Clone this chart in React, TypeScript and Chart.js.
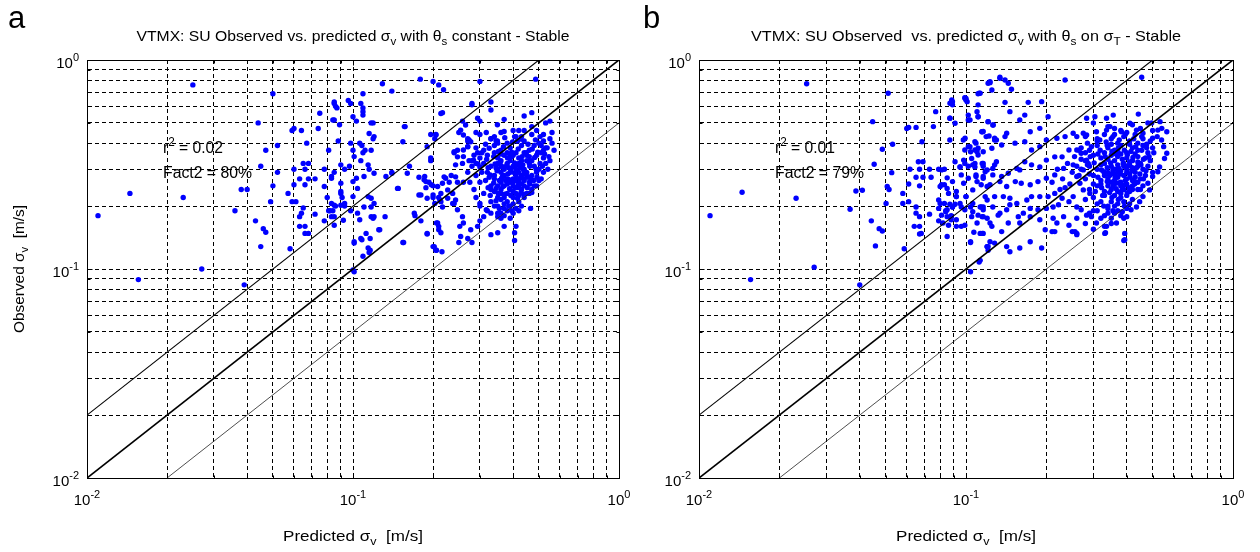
import React, { useEffect, useRef } from 'react';
import { Chart, registerables } from 'chart.js';

Chart.register(...registerables);

// ---------- axes / reference lines ----------
const gridValues = [0.01, 0.02, 0.03, 0.04, 0.05, 0.06, 0.07, 0.08, 0.09, 0.1, 0.2, 0.3, 0.4, 0.5, 0.6, 0.7, 0.8, 0.9, 1];
const majorValues = [0.01, 0.1, 1];
const majorExponents = ['-2', '-1', '0'];
const oneToOneLine: [number, number][] = [[0.01, 0.01], [1, 1]];
const factor2Upper: [number, number][] = [[0.01, 0.02], [0.5, 1]];
const factor2Lower: [number, number][] = [[0.02, 0.01], [1, 0.5]];

// ---------- panel a : predicted vs observed sigma_v ----------
const pointsA_left: [number, number][] = [
  [0.011, 0.18], [0.0145, 0.23], [0.0156, 0.089], [0.023, 0.22], [0.025, 0.76], [0.027, 0.10], [0.036, 0.19], [0.038, 0.24], [0.040, 0.24], [0.039, 0.084],
  [0.043, 0.17], [0.044, 0.50], [0.045, 0.31], [0.045, 0.128], [0.046, 0.156], [0.047, 0.15], [0.047, 0.37], [0.049, 0.21], [0.050, 0.69], [0.050, 0.25],
  [0.052, 0.39], [0.052, 0.29], [0.057, 0.23], [0.058, 0.125], [0.059, 0.46], [0.059, 0.21], [0.060, 0.47], [0.060, 0.30], [0.060, 0.253], [0.061, 0.21],
  [0.063, 0.27], [0.063, 0.178], [0.063, 0.16], [0.064, 0.46], [0.064, 0.185], [0.065, 0.32], [0.065, 0.196], [0.066, 0.30], [0.066, 0.253], [0.066, 0.16],
  [0.066, 0.148], [0.067, 0.40], [0.068, 0.32], [0.068, 0.27], [0.068, 0.148], [0.072, 0.27], [0.072, 0.183], [0.074, 0.47], [0.075, 0.556], [0.078, 0.30],
  [0.078, 0.248], [0.078, 0.17], [0.080, 0.22], [0.081, 0.37], [0.081, 0.19], [0.083, 0.277], [0.083, 0.206], [0.083, 0.178], [0.084, 0.19], [0.085, 0.63],
  [0.085, 0.517], [0.085, 0.202], [0.085, 0.162], [0.086, 0.60], [0.088, 0.41], [0.089, 0.49], [0.090, 0.202], [0.090, 0.235], [0.091, 0.22], [0.092, 0.171],
  [0.093, 0.206],
];
const pointsA_near01: [number, number][] = [
  [0.085, 0.62], [0.087, 0.59], [0.096, 0.64], [0.098, 0.62], [0.107, 0.62], [0.109, 0.59], [0.109, 0.545], [0.10, 0.535], [0.103, 0.51], [0.084, 0.516],
  [0.117, 0.50], [0.115, 0.445], [0.119, 0.42], [0.106, 0.40], [0.098, 0.40], [0.10, 0.37], [0.101, 0.345], [0.109, 0.36], [0.107, 0.33], [0.097, 0.31],
  [0.090, 0.315], [0.085, 0.29], [0.093, 0.30], [0.114, 0.315], [0.115, 0.30], [0.11, 0.277], [0.103, 0.272], [0.10, 0.262], [0.083, 0.272], [0.09, 0.257],
  [0.104, 0.243], [0.09, 0.23], [0.10, 0.222], [0.114, 0.222], [0.117, 0.218], [0.086, 0.20], [0.093, 0.20], [0.098, 0.19], [0.11, 0.198], [0.117, 0.198],
  [0.082, 0.19], [0.085, 0.178], [0.104, 0.185], [0.106, 0.172], [0.12, 0.178], [0.132, 0.178], [0.126, 0.154], [0.112, 0.148], [0.107, 0.14], [0.101, 0.135],
  [0.114, 0.126], [0.115, 0.12], [0.10, 0.099], [0.147, 0.243], [0.14, 0.287], [0.133, 0.277], [0.12, 0.287], [0.109, 0.69], [0.109, 0.566], [0.108, 0.39],
  [0.111, 0.37], [0.12, 0.206], [0.117, 0.178], [0.116, 0.123], [0.101, 0.097], [0.129, 0.77], [0.14, 0.71], [0.156, 0.48], [0.154, 0.406], [0.14, 0.29],
  [0.148, 0.243], [0.154, 0.134], [0.125, 0.154], [0.119, 0.175], [0.116, 0.14], [0.109, 0.115], [0.101, 0.133], [0.108, 0.138], [0.119, 0.50], [0.12, 0.43],
  [0.117, 0.37],
];
const pointsA_mid: [number, number][] = [
  [0.179, 0.81], [0.20, 0.79], [0.21, 0.76], [0.219, 0.72], [0.30, 0.79], [0.486, 0.81], [0.217, 0.56], [0.157, 0.48], [0.205, 0.438], [0.203, 0.42],
  [0.19, 0.385], [0.196, 0.34], [0.163, 0.31], [0.16, 0.287], [0.171, 0.18], [0.19, 0.148], [0.202, 0.128], [0.206, 0.123], [0.216, 0.121], [0.214, 0.149],
  [0.155, 0.134], [0.208, 0.166], [0.28, 0.62], [0.33, 0.63], [0.33, 0.576], [0.28, 0.61], [0.214, 0.555], [0.258, 0.51], [0.294, 0.526], [0.30, 0.51],
  [0.349, 0.49], [0.37, 0.52], [0.44, 0.54], [0.47, 0.56], [0.53, 0.50], [0.55, 0.51], [0.56, 0.45], [0.25, 0.45], [0.27, 0.42], [0.29, 0.45],
  [0.196, 0.44], [0.205, 0.44], [0.196, 0.33], [0.177, 0.275], [0.185, 0.267], [0.193, 0.26], [0.20, 0.25], [0.188, 0.245], [0.177, 0.226], [0.20, 0.22],
  [0.21, 0.22], [0.22, 0.276], [0.23, 0.26], [0.234, 0.28], [0.243, 0.276], [0.247, 0.26], [0.26, 0.26], [0.24, 0.36], [0.247, 0.37], [0.26, 0.345],
  [0.27, 0.385], [0.273, 0.33], [0.29, 0.32], [0.294, 0.36], [0.27, 0.41], [0.317, 0.45], [0.33, 0.42], [0.34, 0.43], [0.349, 0.41], [0.37, 0.455],
  [0.40, 0.46], [0.405, 0.43], [0.415, 0.41], [0.43, 0.43], [0.44, 0.46], [0.47, 0.48], [0.49, 0.46], [0.505, 0.43], [0.52, 0.41], [0.537, 0.38],
  [0.545, 0.345], [0.52, 0.37], [0.19, 0.147], [0.20, 0.128], [0.205, 0.123], [0.21, 0.154], [0.25, 0.134], [0.28, 0.134], [0.33, 0.146], [0.35, 0.149],
  [0.405, 0.149], [0.405, 0.137], [0.465, 0.195], [0.41, 0.16], [0.37, 0.16], [0.17, 0.185], [0.18, 0.17], [0.206, 0.166], [0.21, 0.16], [0.252, 0.16],
  [0.254, 0.143], [0.27, 0.14], [0.277, 0.154], [0.294, 0.16], [0.26, 0.166], [0.258, 0.178], [0.247, 0.192], [0.24, 0.206], [0.227, 0.218], [0.214, 0.21],
  [0.30, 0.17], [0.31, 0.178], [0.317, 0.192], [0.33, 0.185], [0.35, 0.178], [0.36, 0.185], [0.30, 0.206], [0.186, 0.277], [0.188, 0.262], [0.197, 0.253],
  [0.208, 0.248], [0.217, 0.257], [0.223, 0.272], [0.227, 0.239], [0.214, 0.23], [0.237, 0.23], [0.243, 0.214], [0.237, 0.206], [0.18, 0.226], [0.19, 0.218],
  [0.20, 0.226], [0.203, 0.206], [0.212, 0.214], [0.217, 0.198], [0.24, 0.364], [0.247, 0.344], [0.243, 0.315], [0.258, 0.32], [0.26, 0.371], [0.27, 0.385],
  [0.277, 0.406], [0.284, 0.332], [0.30, 0.308], [0.254, 0.462], [0.26, 0.438], [0.273, 0.414], [0.265, 0.489],
];
const pointsA_core: [number, number][] = [
  [0.30, 0.44], [0.33, 0.42], [0.36, 0.45], [0.38, 0.40], [0.41, 0.43], [0.44, 0.41], [0.47, 0.44], [0.50, 0.40], [0.35, 0.40], [0.42, 0.46], [0.52, 0.44], [0.55, 0.42],
  [0.29, 0.38], [0.31, 0.37], [0.34, 0.39], [0.36, 0.37], [0.39, 0.38], [0.41, 0.36], [0.43, 0.39], [0.46, 0.37], [0.48, 0.39], [0.51, 0.36], [0.53, 0.38], [0.38, 0.36], [0.44, 0.36],
  [0.30, 0.34], [0.32, 0.35], [0.35, 0.34], [0.37, 0.35], [0.39, 0.33], [0.40, 0.35], [0.42, 0.34], [0.45, 0.35], [0.47, 0.33], [0.49, 0.35], [0.52, 0.34], [0.36, 0.33], [0.43, 0.33], [0.34, 0.36],
  [0.28, 0.31], [0.31, 0.32], [0.33, 0.31], [0.35, 0.32], [0.37, 0.30], [0.38, 0.32], [0.40, 0.31], [0.42, 0.32], [0.44, 0.30], [0.46, 0.32], [0.48, 0.31], [0.50, 0.30], [0.53, 0.32], [0.36, 0.31], [0.41, 0.30], [0.45, 0.33],
  [0.29, 0.28], [0.32, 0.29], [0.34, 0.28], [0.35, 0.30], [0.37, 0.28], [0.39, 0.29], [0.40, 0.27], [0.42, 0.29], [0.43, 0.28], [0.45, 0.29], [0.47, 0.28], [0.49, 0.29], [0.51, 0.27], [0.38, 0.27], [0.44, 0.27], [0.36, 0.29], [0.41, 0.28],
  [0.30, 0.26], [0.33, 0.25], [0.34, 0.27], [0.36, 0.26], [0.37, 0.25], [0.39, 0.26], [0.40, 0.25], [0.42, 0.26], [0.44, 0.25], [0.46, 0.26], [0.48, 0.25], [0.35, 0.25], [0.41, 0.27], [0.43, 0.255], [0.38, 0.255],
  [0.31, 0.23], [0.33, 0.24], [0.35, 0.22], [0.36, 0.24], [0.38, 0.23], [0.39, 0.24], [0.41, 0.23], [0.43, 0.24], [0.45, 0.23], [0.47, 0.24], [0.37, 0.22], [0.40, 0.22], [0.42, 0.225], [0.34, 0.235],
  [0.33, 0.21], [0.35, 0.20], [0.36, 0.215], [0.38, 0.21], [0.40, 0.205], [0.42, 0.21], [0.44, 0.22], [0.39, 0.20], [0.37, 0.205], [0.46, 0.23],
  [0.35, 0.185], [0.37, 0.18], [0.38, 0.19], [0.40, 0.185], [0.36, 0.175], [0.39, 0.175], [0.42, 0.19],
  [0.345, 0.305], [0.385, 0.305], [0.425, 0.305], [0.395, 0.345], [0.355, 0.265], [0.415, 0.265], [0.455, 0.275], [0.375, 0.265], [0.435, 0.315], [0.325, 0.275],
];
const pointsA_dense: [number, number][] = [
  [0.315, 0.395], [0.345, 0.41], [0.372, 0.425], [0.398, 0.405], [0.428, 0.418], [0.455, 0.395], [0.485, 0.415], [0.51, 0.39],
  [0.305, 0.36], [0.325, 0.378], [0.352, 0.365], [0.368, 0.385], [0.395, 0.362], [0.418, 0.375], [0.448, 0.36], [0.472, 0.375], [0.495, 0.362], [0.525, 0.355],
  [0.318, 0.335], [0.338, 0.345], [0.358, 0.325], [0.381, 0.34], [0.405, 0.322], [0.432, 0.345], [0.458, 0.328], [0.482, 0.342], [0.505, 0.32],
  [0.295, 0.318], [0.322, 0.305], [0.342, 0.318], [0.362, 0.31], [0.378, 0.312], [0.392, 0.298], [0.412, 0.315], [0.438, 0.298], [0.462, 0.31], [0.488, 0.30], [0.515, 0.31],
  [0.305, 0.29], [0.328, 0.282], [0.348, 0.295], [0.365, 0.277], [0.382, 0.285], [0.405, 0.288], [0.425, 0.272], [0.448, 0.283], [0.468, 0.268], [0.492, 0.275],
  [0.315, 0.265], [0.338, 0.258], [0.362, 0.272], [0.385, 0.268], [0.402, 0.262], [0.418, 0.252], [0.44, 0.265], [0.462, 0.255], [0.478, 0.265],
  [0.322, 0.245], [0.345, 0.243], [0.366, 0.248], [0.388, 0.242], [0.408, 0.245], [0.428, 0.232], [0.452, 0.245], [0.47, 0.232],
  [0.328, 0.225], [0.352, 0.23], [0.372, 0.228], [0.392, 0.225], [0.415, 0.218], [0.438, 0.228], [0.345, 0.212], [0.37, 0.195], [0.395, 0.19], [0.41, 0.195], [0.43, 0.20],
  [0.34, 0.20], [0.385, 0.20], [0.355, 0.195], [0.36, 0.23], [0.40, 0.235], [0.42, 0.245], [0.44, 0.285], [0.39, 0.35], [0.36, 0.355], [0.46, 0.345],
  [0.285, 0.35], [0.28, 0.33], [0.27, 0.29], [0.275, 0.26], [0.285, 0.24], [0.29, 0.22], [0.30, 0.20], [0.32, 0.19], [0.56, 0.40], [0.57, 0.37],
  [0.55, 0.33], [0.54, 0.30], [0.52, 0.29], [0.50, 0.265], [0.49, 0.25],
];

// ---------- panel b : with theta_s on sigma_T ----------
const pointsB_left: [number, number][] = [
  [0.011, 0.18], [0.0145, 0.233], [0.0156, 0.089], [0.0231, 0.218], [0.0253, 0.77], [0.027, 0.102], [0.0368, 0.193], [0.0387, 0.236], [0.0409, 0.238], [0.040, 0.084],
  [0.0442, 0.17], [0.0447, 0.507], [0.0453, 0.317], [0.0458, 0.129], [0.0473, 0.156], [0.0486, 0.152], [0.0486, 0.374], [0.0502, 0.206], [0.0507, 0.248], [0.0511, 0.693],
  [0.0515, 0.24], [0.0527, 0.289], [0.0531, 0.395], [0.0587, 0.125], [0.058, 0.23], [0.058, 0.206], [0.06, 0.47], [0.061, 0.476], [0.061, 0.21], [0.061, 0.255],
  [0.0617, 0.30], [0.064, 0.16], [0.065, 0.476], [0.065, 0.275], [0.065, 0.198], [0.065, 0.185], [0.0663, 0.326], [0.067, 0.30], [0.067, 0.25], [0.067, 0.178],
  [0.067, 0.16], [0.067, 0.147], [0.068, 0.148], [0.0684, 0.406], [0.069, 0.326], [0.069, 0.275], [0.073, 0.30], [0.073, 0.183], [0.074, 0.275], [0.0755, 0.48],
  [0.077, 0.566], [0.079, 0.30], [0.079, 0.214], [0.079, 0.17], [0.079, 0.195], [0.081, 0.253], [0.083, 0.206], [0.084, 0.19], [0.085, 0.273], [0.086, 0.162],
  [0.087, 0.204], [0.087, 0.526], [0.087, 0.414], [0.088, 0.178], [0.089, 0.632], [0.089, 0.61], [0.091, 0.204], [0.092, 0.172], [0.092, 0.235], [0.092, 0.222],
  [0.099, 0.66], [0.10, 0.644], [0.102, 0.545], [0.102, 0.516], [0.099, 0.32], [0.102, 0.31], [0.096, 0.198], [0.104, 0.097], [0.104, 0.134], [0.107, 0.15],
  [0.109, 0.40], [0.111, 0.378], [0.11, 0.364], [0.111, 0.69], [0.111, 0.61], [0.111, 0.535], [0.108, 0.32], [0.116, 0.31], [0.109, 0.277], [0.116, 0.277],
  [0.12, 0.248], [0.118, 0.222], [0.115, 0.178], [0.12, 0.175], [0.115, 0.148], [0.12, 0.128], [0.121, 0.123], [0.116, 0.198], [0.112, 0.108], [0.116, 0.455],
  [0.119, 0.43], [0.121, 0.774],
];
const pointsB_near01: [number, number][] = [
  [0.123, 0.779], [0.125, 0.718], [0.113, 0.693], [0.10, 0.655], [0.101, 0.632], [0.11, 0.566], [0.115, 0.454], [0.122, 0.433], [0.128, 0.414], [0.126, 0.489],
  [0.121, 0.507], [0.13, 0.414], [0.134, 0.817], [0.0977, 0.414], [0.099, 0.371], [0.102, 0.385], [0.104, 0.364], [0.105, 0.338], [0.098, 0.332], [0.108, 0.308],
  [0.109, 0.282], [0.116, 0.32], [0.118, 0.292], [0.126, 0.303], [0.13, 0.326], [0.114, 0.253], [0.106, 0.239], [0.10, 0.222], [0.104, 0.198], [0.106, 0.188],
  [0.114, 0.198], [0.116, 0.178], [0.113, 0.148], [0.125, 0.16], [0.123, 0.135], [0.121, 0.128], [0.113, 0.11], [0.104, 0.135], [0.095, 0.308], [0.096, 0.282],
  [0.089, 0.198], [0.085, 0.243], [0.080, 0.248], [0.085, 0.178], [0.088, 0.18], [0.082, 0.166], [0.08, 0.206], [0.084, 0.188], [0.0992, 0.422], [0.083, 0.30],
];
const pointsB_upper: [number, number][] = [
  [0.123, 0.787], [0.134, 0.827], [0.14, 0.802], [0.144, 0.774], [0.148, 0.724], [0.112, 0.693], [0.0884, 0.644], [0.0871, 0.621], [0.0992, 0.656], [0.14, 0.627],
  [0.146, 0.566], [0.171, 0.627], [0.192, 0.632], [0.235, 0.802], [0.455, 0.827], [0.0871, 0.526], [0.091, 0.498], [0.1035, 0.516], [0.111, 0.535], [0.121, 0.507],
  [0.1265, 0.489], [0.159, 0.516], [0.166, 0.545], [0.203, 0.535], [0.189, 0.471], [0.174, 0.454], [0.142, 0.446], [0.14, 0.43], [0.128, 0.422], [0.1146, 0.454],
  [0.108, 0.406], [0.1035, 0.385], [0.108, 0.371], [0.111, 0.351], [0.116, 0.364], [0.125, 0.378], [0.136, 0.392], [0.1526, 0.40], [0.166, 0.406], [0.176, 0.371],
  [0.189, 0.385], [0.20, 0.414], [0.219, 0.422], [0.235, 0.43], [0.252, 0.446], [0.275, 0.446], [0.283, 0.526], [0.304, 0.535], [0.336, 0.526], [0.356, 0.545],
  [0.442, 0.551], [0.496, 0.50], [0.533, 0.507], [0.565, 0.454], [0.541, 0.471],
];
const pointsB_mid: [number, number][] = [
  [0.091, 0.326], [0.095, 0.308], [0.106, 0.315], [0.115, 0.32], [0.12, 0.298], [0.128, 0.315], [0.126, 0.282], [0.136, 0.277], [0.144, 0.287], [0.155, 0.303],
  [0.159, 0.298], [0.166, 0.326], [0.176, 0.315], [0.189, 0.308], [0.20, 0.332], [0.215, 0.344], [0.229, 0.344], [0.243, 0.371], [0.26, 0.371], [0.27, 0.358],
  [0.283, 0.332], [0.252, 0.315], [0.232, 0.303], [0.215, 0.282], [0.20, 0.272], [0.186, 0.262], [0.174, 0.253], [0.161, 0.257], [0.153, 0.262], [0.142, 0.248],
  [0.134, 0.262], [0.123, 0.253], [0.116, 0.272], [0.11, 0.262], [0.102, 0.272], [0.098, 0.257], [0.089, 0.262], [0.083, 0.253], [0.081, 0.298], [0.086, 0.23],
  [0.092, 0.222], [0.10, 0.222], [0.106, 0.206], [0.113, 0.198], [0.12, 0.214], [0.128, 0.222], [0.138, 0.222], [0.146, 0.218], [0.155, 0.206], [0.169, 0.214],
  [0.176, 0.222], [0.189, 0.222], [0.203, 0.222], [0.215, 0.23], [0.229, 0.218], [0.243, 0.21], [0.252, 0.222], [0.222, 0.203], [0.212, 0.198], [0.20, 0.195],
  [0.186, 0.192], [0.174, 0.195], [0.164, 0.185], [0.157, 0.178], [0.146, 0.203], [0.142, 0.192], [0.134, 0.185], [0.126, 0.198], [0.116, 0.192], [0.111, 0.181],
  [0.105, 0.178], [0.099, 0.192], [0.095, 0.206], [0.089, 0.198], [0.085, 0.192], [0.081, 0.181], [0.088, 0.172], [0.092, 0.16], [0.099, 0.162], [0.11, 0.166],
  [0.123, 0.166], [0.132, 0.181], [0.144, 0.166], [0.159, 0.166], [0.174, 0.178], [0.189, 0.172], [0.212, 0.175], [0.232, 0.178], [0.219, 0.166], [0.243, 0.162],
  [0.25, 0.151], [0.26, 0.148], [0.215, 0.151], [0.198, 0.154], [0.174, 0.135], [0.159, 0.126], [0.146, 0.121], [0.142, 0.128], [0.136, 0.151], [0.128, 0.133],
  [0.12, 0.128], [0.116, 0.148], [0.096, 0.16], [0.085, 0.143], [0.192, 0.126], [0.21, 0.151],
];
const pointsB_coreEdge: [number, number][] = [
  [0.26, 0.43], [0.283, 0.438], [0.308, 0.454], [0.317, 0.414], [0.336, 0.462], [0.346, 0.48], [0.382, 0.454], [0.411, 0.498], [0.435, 0.462], [0.46, 0.446],
  [0.50, 0.422], [0.523, 0.462], [0.54, 0.414], [0.55, 0.385], [0.565, 0.358], [0.554, 0.338], [0.531, 0.308], [0.523, 0.292], [0.50, 0.277], [0.48, 0.257],
  [0.487, 0.239], [0.46, 0.222], [0.447, 0.21], [0.435, 0.198], [0.415, 0.192], [0.40, 0.178], [0.39, 0.175], [0.366, 0.166], [0.336, 0.16], [0.331, 0.148],
  [0.308, 0.166], [0.295, 0.178], [0.283, 0.181], [0.27, 0.192], [0.26, 0.198], [0.256, 0.151], [0.26, 0.146], [0.393, 0.148], [0.393, 0.138], [0.291, 0.23],
  [0.275, 0.239], [0.267, 0.257], [0.26, 0.277], [0.275, 0.298], [0.287, 0.32],
];
const pointsB_core: [number, number][] = [
  [0.30, 0.50], [0.34, 0.48], [0.38, 0.46], [0.42, 0.49], [0.45, 0.47], [0.48, 0.50], [0.40, 0.45], [0.36, 0.47], [0.50, 0.46],
  [0.28, 0.43], [0.31, 0.41], [0.33, 0.44], [0.35, 0.42], [0.37, 0.40], [0.39, 0.43], [0.41, 0.41], [0.43, 0.44], [0.46, 0.42], [0.49, 0.41], [0.52, 0.43], [0.36, 0.44], [0.44, 0.40],
  [0.27, 0.38], [0.29, 0.37], [0.31, 0.39], [0.33, 0.36], [0.34, 0.38], [0.36, 0.37], [0.38, 0.39], [0.40, 0.36], [0.42, 0.38], [0.44, 0.37], [0.46, 0.39], [0.48, 0.36], [0.50, 0.38], [0.35, 0.395], [0.41, 0.395], [0.37, 0.365],
  [0.28, 0.33], [0.30, 0.35], [0.32, 0.34], [0.33, 0.32], [0.35, 0.35], [0.36, 0.33], [0.37, 0.345], [0.39, 0.32], [0.40, 0.34], [0.42, 0.33], [0.43, 0.355], [0.45, 0.32], [0.47, 0.34], [0.49, 0.33], [0.34, 0.335], [0.38, 0.355], [0.41, 0.325], [0.44, 0.345],
  [0.27, 0.30], [0.29, 0.31], [0.31, 0.30], [0.32, 0.315], [0.34, 0.29], [0.35, 0.31], [0.36, 0.30], [0.37, 0.315], [0.38, 0.295], [0.39, 0.31], [0.40, 0.30], [0.41, 0.315], [0.43, 0.29], [0.44, 0.31], [0.46, 0.30], [0.48, 0.31], [0.50, 0.29], [0.36, 0.285], [0.42, 0.305],
  [0.28, 0.27], [0.30, 0.28], [0.32, 0.265], [0.33, 0.28], [0.34, 0.27], [0.35, 0.285], [0.36, 0.265], [0.37, 0.275], [0.38, 0.26], [0.39, 0.28], [0.40, 0.27], [0.41, 0.285], [0.42, 0.265], [0.43, 0.275], [0.45, 0.27], [0.47, 0.28], [0.37, 0.29], [0.35, 0.26], [0.40, 0.29], [0.44, 0.26],
  [0.29, 0.24], [0.31, 0.25], [0.33, 0.235], [0.34, 0.25], [0.35, 0.24], [0.36, 0.255], [0.37, 0.235], [0.38, 0.25], [0.39, 0.24], [0.40, 0.255], [0.41, 0.235], [0.42, 0.25], [0.44, 0.24], [0.46, 0.25], [0.32, 0.255], [0.38, 0.23],
  [0.30, 0.22], [0.32, 0.21], [0.33, 0.225], [0.35, 0.21], [0.36, 0.225], [0.37, 0.205], [0.38, 0.22], [0.39, 0.21], [0.40, 0.225], [0.42, 0.215], [0.34, 0.20], [0.36, 0.20], [0.41, 0.205], [0.28, 0.215],
  [0.31, 0.19], [0.33, 0.18], [0.34, 0.195], [0.35, 0.175], [0.37, 0.19], [0.38, 0.18], [0.36, 0.185], [0.32, 0.175], [0.29, 0.185], [0.40, 0.195],
  [0.33, 0.16], [0.333, 0.149], [0.39, 0.137], [0.30, 0.155], [0.28, 0.165], [0.26, 0.175], [0.35, 0.165],
];
const pointsB_dense: [number, number][] = [
  [0.31, 0.42], [0.335, 0.405], [0.355, 0.43], [0.375, 0.415], [0.395, 0.44], [0.425, 0.42], [0.455, 0.43], [0.475, 0.395],
  [0.295, 0.385], [0.318, 0.37], [0.338, 0.39], [0.352, 0.365], [0.372, 0.38], [0.392, 0.37], [0.415, 0.365], [0.432, 0.385], [0.455, 0.37], [0.475, 0.38], [0.505, 0.36],
  [0.292, 0.345], [0.312, 0.355], [0.332, 0.345], [0.348, 0.322], [0.365, 0.355], [0.385, 0.335], [0.402, 0.352], [0.422, 0.342], [0.44, 0.325], [0.462, 0.335], [0.485, 0.345],
  [0.285, 0.315], [0.302, 0.322], [0.322, 0.298], [0.338, 0.305], [0.355, 0.298], [0.372, 0.305], [0.388, 0.32], [0.405, 0.312], [0.418, 0.295], [0.435, 0.305], [0.452, 0.315], [0.472, 0.295],
  [0.29, 0.285], [0.312, 0.275], [0.328, 0.292], [0.345, 0.28], [0.362, 0.275], [0.378, 0.285], [0.395, 0.265], [0.412, 0.275], [0.428, 0.262], [0.448, 0.285], [0.462, 0.27],
  [0.30, 0.255], [0.322, 0.245], [0.338, 0.262], [0.355, 0.248], [0.372, 0.258], [0.392, 0.252], [0.408, 0.245], [0.428, 0.255], [0.45, 0.24],
  [0.305, 0.235], [0.325, 0.225], [0.345, 0.232], [0.365, 0.242], [0.385, 0.24], [0.402, 0.232], [0.42, 0.24], [0.31, 0.205], [0.328, 0.20], [0.352, 0.22], [0.372, 0.215], [0.392, 0.20],
  [0.34, 0.185], [0.355, 0.19], [0.385, 0.188], [0.30, 0.19],
  [0.22, 0.30], [0.24, 0.32], [0.25, 0.29], [0.26, 0.31], [0.23, 0.27], [0.245, 0.255], [0.265, 0.28], [0.255, 0.345], [0.27, 0.335], [0.225, 0.24],
  [0.21, 0.26], [0.235, 0.245], [0.28, 0.36], [0.265, 0.37], [0.285, 0.40],
];

// ---------- texts ----------
type Seg = { t: string; sub?: boolean; sup?: boolean };
const titleA: Seg[] = [{ t: 'VTMX: SU Observed vs. predicted σ' }, { t: 'v', sub: true }, { t: ' with θ' }, { t: 's', sub: true }, { t: ' constant - Stable' }];
const titleB: Seg[] = [{ t: 'VTMX: SU Observed  vs. predicted σ' }, { t: 'v', sub: true }, { t: ' with θ' }, { t: 's', sub: true }, { t: ' on σ' }, { t: 'T', sub: true }, { t: ' - Stable' }];
const xTitle: Seg[] = [{ t: 'Predicted σ' }, { t: 'v', sub: true }, { t: '  [m/s]' }];
const yTitle: Seg[] = [{ t: 'Observed σ' }, { t: 'v', sub: true }, { t: '  [m/s]' }];
const r2A = '0.02';
const fact2A = '80%';
const r2B = '0.01';
const fact2B = '79%';

const FONT = '"Liberation Sans", Arial, Helvetica, sans-serif';

function drawRich(ctx: CanvasRenderingContext2D, segs: Seg[], x: number, y: number, size: number, align: 'left' | 'center' | 'right', targetWidth?: number) {
  const parts = segs.map((s) => {
    const fs = s.sub || s.sup ? Math.round(size * 0.72) : size;
    ctx.font = `${fs}px ${FONT}`;
    return { s, fs, w: ctx.measureText(s.t).width };
  });
  const natural = parts.reduce((a, p) => a + p.w, 0);
  const sx = targetWidth ? targetWidth / natural : 1;
  const total = natural * sx;
  const start = align === 'left' ? x : align === 'center' ? x - total / 2 : x - total;
  ctx.save();
  ctx.translate(start, y);
  ctx.scale(sx, 1);
  ctx.fillStyle = '#000';
  ctx.textBaseline = 'alphabetic';
  ctx.textAlign = 'left';
  let cx = 0;
  for (const p of parts) {
    ctx.font = `${p.fs}px ${FONT}`;
    const dy = p.s.sub ? size * 0.28 : p.s.sup ? -size * 0.45 : 0;
    ctx.fillText(p.s.t, cx, dy);
    cx += p.w;
  }
  ctx.restore();
}

type PanelCfg = {
  offset: number;
  yWidth: number;
  padRight: number;
  points: [number, number][];
  title: Seg[];
  titleWidth: number;
  label: string;
  labelX: number;
  r2: string;
  fact2: string;
  annX: number;
  showYTitle: boolean;
};

const panels: PanelCfg[] = [
  {
    offset: 0, yWidth: 87, padRight: 11,
    points: [...pointsA_left, ...pointsA_near01, ...pointsA_mid, ...pointsA_core, ...pointsA_dense],
    title: titleA, titleWidth: 433, label: 'a', labelX: 8, r2: r2A, fact2: fact2A, annX: 163, showYTitle: true,
  },
  {
    offset: 630, yWidth: 69, padRight: 27,
    points: [...pointsB_left, ...pointsB_near01, ...pointsB_upper, ...pointsB_mid, ...pointsB_coreEdge, ...pointsB_core, ...pointsB_dense],
    title: titleB, titleWidth: 430, label: 'b', labelX: 13, r2: r2B, fact2: fact2B, annX: 145, showYTitle: false,
  },
];

function makeDecor(cfg: PanelCfg) {
  return {
    id: 'decor' + cfg.label,
    afterDraw(chart: any) {
      const ctx: CanvasRenderingContext2D = chart.ctx;
      const { left, right, top, bottom } = chart.chartArea;
      const xs = chart.scales.x;
      const ys = chart.scales.y;
      ctx.save();
      ctx.setLineDash([]);
      ctx.strokeStyle = '#000';
      ctx.lineWidth = 1;
      const L = Math.round(left) + 0.5, R = Math.round(right) + 0.5, T = Math.round(top) + 0.5, B = Math.round(bottom) + 0.5;
      ctx.strokeRect(L, T, R - L, B - T);
      // inside tick marks
      ctx.beginPath();
      for (const v of gridValues) {
        const len = majorValues.includes(v) ? 5 : 3;
        const px = Math.round(xs.getPixelForValue(v)) + 0.5;
        ctx.moveTo(px, B); ctx.lineTo(px, B - len);
        ctx.moveTo(px, T); ctx.lineTo(px, T + len);
        const py = Math.round(ys.getPixelForValue(v)) + 0.5;
        ctx.moveTo(L, py); ctx.lineTo(L + len, py);
        ctx.moveTo(R, py); ctx.lineTo(R - len, py);
      }
      ctx.stroke();

      // tick labels
      majorValues.forEach((v, i) => {
        const segs: Seg[] = [{ t: '10' }, { t: majorExponents[i], sup: true }];
        const px = xs.getPixelForValue(v);
        drawRich(ctx, segs, px, bottom + 27, 15, 'center');
        const py = ys.getPixelForValue(v);
        drawRich(ctx, segs, left - 8, py + 8, 15, 'right');
      });

      const cxp = (left + right) / 2;
      // title
      drawRich(ctx, cfg.title, cxp, 41, 15, 'center', cfg.titleWidth);
      // panel label
      ctx.font = `31px ${FONT}`;
      ctx.fillStyle = '#000';
      ctx.textAlign = 'left';
      ctx.textBaseline = 'alphabetic';
      ctx.fillText(cfg.label, cfg.labelX, 28);
      // x axis title
      drawRich(ctx, xTitle, cxp, 541, 15, 'center', 140);
      // y axis title
      if (cfg.showYTitle) {
        ctx.save();
        ctx.translate(24, (top + bottom) / 2);
        ctx.rotate(-Math.PI / 2);
        drawRich(ctx, yTitle, 0, 0, 15, 'center', 128);
        ctx.restore();
      }
      // statistics annotation
      drawRich(ctx, [{ t: 'r' }, { t: '2', sup: true }, { t: ' = ' + cfg.r2 }], cfg.annX, 153, 16, 'left', 60);
      drawRich(ctx, [{ t: 'Fact2 = ' + cfg.fact2 }], cfg.annX, 178, 16, 'left', 89);
      ctx.restore();
    },
  };
}

function Panel({ cfg }: { cfg: PanelCfg }) {
  const ref = useRef<HTMLCanvasElement>(null);
  useEffect(() => {
    if (!ref.current) return;
    const toXY = (arr: [number, number][]) => arr.map(([x, y]) => ({ x, y }));
    const scaleCommon = (isX: boolean) => ({
      type: 'logarithmic' as const,
      min: 0.01,
      max: 1,
      afterBuildTicks: (s: any) => {
        s.ticks = gridValues.map((v) => ({ value: v }));
      },
      afterFit: (s: any) => {
        if (isX) s.height = 74;
        else s.width = cfg.yWidth;
      },
      ticks: { display: false },
      grid: { color: '#000', lineWidth: 1, drawTicks: false },
      border: { display: true, color: '#000', width: 1, dash: [4, 3] },
    });
    const chart = new Chart(ref.current, {
      type: 'scatter',
      data: {
        datasets: [
          { type: 'line', data: toXY(oneToOneLine), borderColor: '#000', borderWidth: 1.7, pointRadius: 0, fill: false, tension: 0, order: 0 } as any,
          { type: 'line', data: toXY(factor2Upper), borderColor: '#000', borderWidth: 1.1, pointRadius: 0, fill: false, tension: 0, order: 0 } as any,
          { type: 'line', data: toXY(factor2Lower), borderColor: '#222', borderWidth: 0.8, pointRadius: 0, fill: false, tension: 0, order: 0 } as any,
          {
            type: 'scatter',
            data: toXY(cfg.points),
            pointRadius: 2.7,
            pointBackgroundColor: '#0000ff',
            pointBorderColor: '#0000ff',
            pointBorderWidth: 0,
            order: 1,
          } as any,
        ],
      },
      options: {
        animation: false,
        responsive: false,
        maintainAspectRatio: false,
        layout: { padding: { left: 0, right: cfg.padRight, top: 60, bottom: 0 } },
        plugins: { legend: { display: false }, tooltip: { enabled: false }, title: { display: false } },
        scales: { x: scaleCommon(true), y: scaleCommon(false) } as any,
      },
      plugins: [makeDecor(cfg)],
    });
    return () => chart.destroy();
  }, [cfg]);
  return (
    <canvas
      ref={ref}
      width={630}
      height={552}
      style={{ position: 'absolute', left: cfg.offset, top: 0, width: 630, height: 552 }}
    />
  );
}

export default function App() {
  return (
    <div style={{ position: 'fixed', left: 0, top: 0, width: 1260, height: 552, background: '#fff', overflow: 'hidden' }}>
      {panels.map((p) => (
        <Panel key={p.label} cfg={p} />
      ))}
    </div>
  );
}
